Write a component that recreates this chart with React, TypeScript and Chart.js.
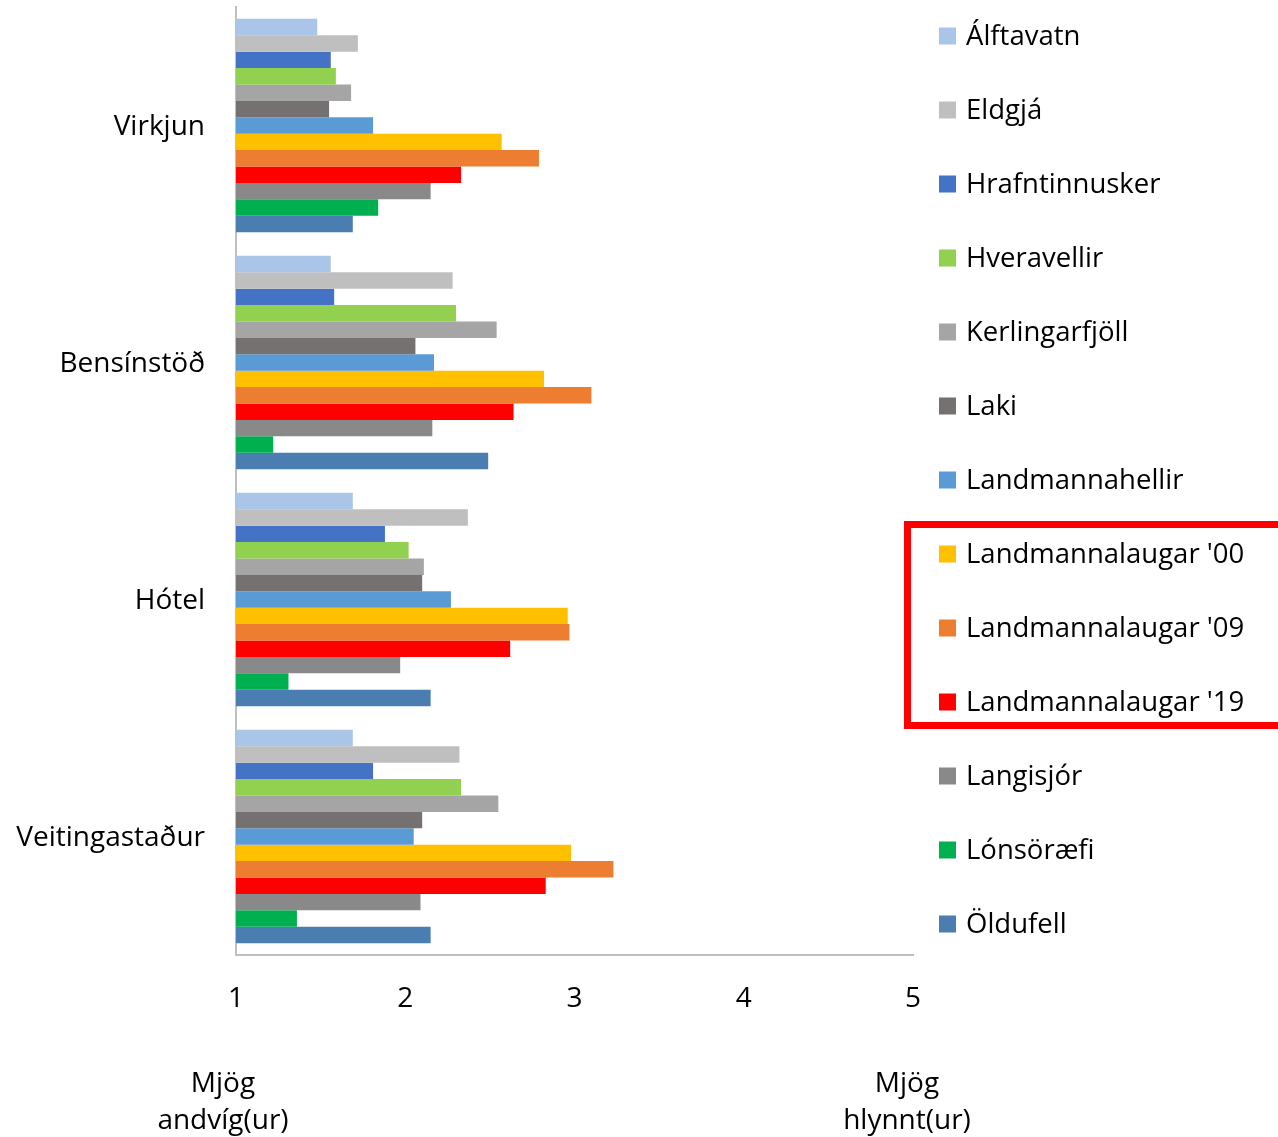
import React, { useEffect, useRef } from "react";
import { Chart, registerables } from "chart.js";

Chart.register(...registerables);

const categories = ["Virkjun", "Bensínstöð", "Hótel", "Veitingastaður"];

const seriesNames = [
  "Álftavatn",
  "Eldgjá",
  "Hrafntinnusker",
  "Hveravellir",
  "Kerlingarfjöll",
  "Laki",
  "Landmannahellir",
  "Landmannalaugar '00",
  "Landmannalaugar '09",
  "Landmannalaugar '19",
  "Langisjór",
  "Lónsöræfi",
  "Öldufell",
];

const seriesColors = [
  "#abc5e8",
  "#bfbfbf",
  "#4472c4",
  "#92d050",
  "#a5a5a5",
  "#767171",
  "#5b9bd5",
  "#ffc000",
  "#ed7d31",
  "#ff0000",
  "#898989",
  "#00b050",
  "#4a7eb0",
];

const alftavatn = [1.48, 1.56, 1.69, 1.69];
const eldgja = [1.72, 2.28, 2.37, 2.32];
const hrafntinnusker = [1.56, 1.58, 1.88, 1.81];
const hveravellir = [1.59, 2.3, 2.02, 2.33];
const kerlingarfjoll = [1.68, 2.54, 2.11, 2.55];
const laki = [1.55, 2.06, 2.1, 2.1];
const landmannahellir = [1.81, 2.17, 2.27, 2.05];
const landmannalaugar00 = [2.57, 2.82, 2.96, 2.98];
const landmannalaugar09 = [2.79, 3.1, 2.97, 3.23];
const landmannalaugar19 = [2.33, 2.64, 2.62, 2.83];
const langisjor = [2.15, 2.16, 1.97, 2.09];
const lonsoraefi = [1.84, 1.22, 1.31, 1.36];
const oldufell = [1.69, 2.49, 2.15, 2.15];

const seriesValues = [
  alftavatn,
  eldgja,
  hrafntinnusker,
  hveravellir,
  kerlingarfjoll,
  laki,
  landmannahellir,
  landmannalaugar00,
  landmannalaugar09,
  landmannalaugar19,
  langisjor,
  lonsoraefi,
  oldufell,
];

const xTickValues = [1, 2, 3, 4, 5];
const leftEndLabel = ["Mjög", "andvíg(ur)"];
const rightEndLabel = ["Mjög", "hlynnt(ur)"];
const highlightedSeries = ["Landmannalaugar '00", "Landmannalaugar '09", "Landmannalaugar '19"];

const FONT = "'Open Sans', sans-serif";
const FONT_SIZE = 28;

const overlayPlugin = {
  id: "overlay",
  afterDraw(chart: any) {
    const ctx = chart.ctx;
    const area = chart.chartArea;
    const xs = chart.scales.x;
    ctx.save();
    // legend
    const legendTop = area.top + 29;
    const step = 74;
    const boxX = area.right + 26;
    const box = 17;
    const textX = boxX + 27;
    ctx.font = `${FONT_SIZE - 0.5}px ${FONT}`;
    ctx.textBaseline = "middle";
    ctx.textAlign = "left";
    chart.data.datasets.forEach((ds: any, i: number) => {
      const cy = legendTop + i * step;
      ctx.fillStyle = ds.backgroundColor;
      ctx.fillRect(boxX, cy - box / 2, box, box);
      ctx.fillStyle = "#000";
      ctx.fillText(ds.label, textX, cy + 1);
    });
    // highlight box
    const idx = highlightedSeries.map((n) => seriesNames.indexOf(n));
    const first = Math.min(...idx);
    const last = Math.max(...idx);
    ctx.strokeStyle = "#ff0000";
    ctx.lineWidth = 7;
    const top = legendTop + first * step - 29.5;
    const bottom = legendTop + last * step + 23.5;
    ctx.strokeRect(area.right - 5.5, top, 400, bottom - top);
    // end labels
    ctx.fillStyle = "#000";
    ctx.textAlign = "center";
    ctx.font = `${FONT_SIZE}px ${FONT}`;
    const lx = xs.getPixelForValue(xTickValues[0]) - 13;
    const rx = xs.getPixelForValue(xTickValues[xTickValues.length - 1]) - 6;
    const y1 = area.bottom + 129;
    const lh = 37;
    leftEndLabel.forEach((t, i) => ctx.fillText(t, lx, y1 + i * lh));
    rightEndLabel.forEach((t, i) => ctx.fillText(t, rx, y1 + i * lh));
    ctx.restore();
  },
};

const zeroPadding = (s: any) => {
  s.paddingTop = 0;
  s.paddingBottom = 0;
  s.paddingLeft = 0;
  s.paddingRight = 0;
};

export default function App() {
  const ref = useRef<HTMLCanvasElement | null>(null);
  useEffect(() => {
    if (!ref.current) return;
    const chart = new Chart(ref.current, {
      type: "bar",
      data: {
        labels: categories,
        datasets: seriesNames.map((name, i) => ({
          label: name,
          data: seriesValues[i],
          backgroundColor: seriesColors[i],
          borderWidth: 0,
          categoryPercentage: 0.9,
          barPercentage: 1.0,
          base: 1,
        })),
      },
      options: {
        indexAxis: "y",
        animation: false,
        responsive: true,
        maintainAspectRatio: false,
        layout: { padding: { top: 7, right: 365, bottom: 0, left: 0 } },
        plugins: { legend: { display: false }, tooltip: { enabled: false } },
        scales: {
          x: {
            min: xTickValues[0],
            max: xTickValues[xTickValues.length - 1],
            afterFit: (s: any) => {
              s.height = 182;
              zeroPadding(s);
            },
            afterBuildTicks: (s: any) => {
              s.ticks = xTickValues.map((v) => ({ value: v }));
            },
            grid: { display: false, drawTicks: false },
            border: { display: true, color: "#bfbfbf", width: 2 },
            ticks: {
              font: { family: FONT, size: FONT_SIZE },
              color: "#000",
              padding: 27,
            },
          },
          y: {
            afterFit: (s: any) => {
              s.width = 236;
              zeroPadding(s);
            },
            grid: { display: false, drawTicks: false },
            border: { display: true, color: "#bfbfbf", width: 2 },
            ticks: {
              font: { family: FONT, size: FONT_SIZE },
              color: "#000",
              padding: 31,
              labelOffset: 2,
            },
          },
        },
      },
      plugins: [overlayPlugin],
    });
    return () => chart.destroy();
  }, []);
  return (
    <div style={{ position: "absolute", left: 0, top: 0, width: 1278, height: 1137 }}>
      <canvas ref={ref} />
    </div>
  );
}
